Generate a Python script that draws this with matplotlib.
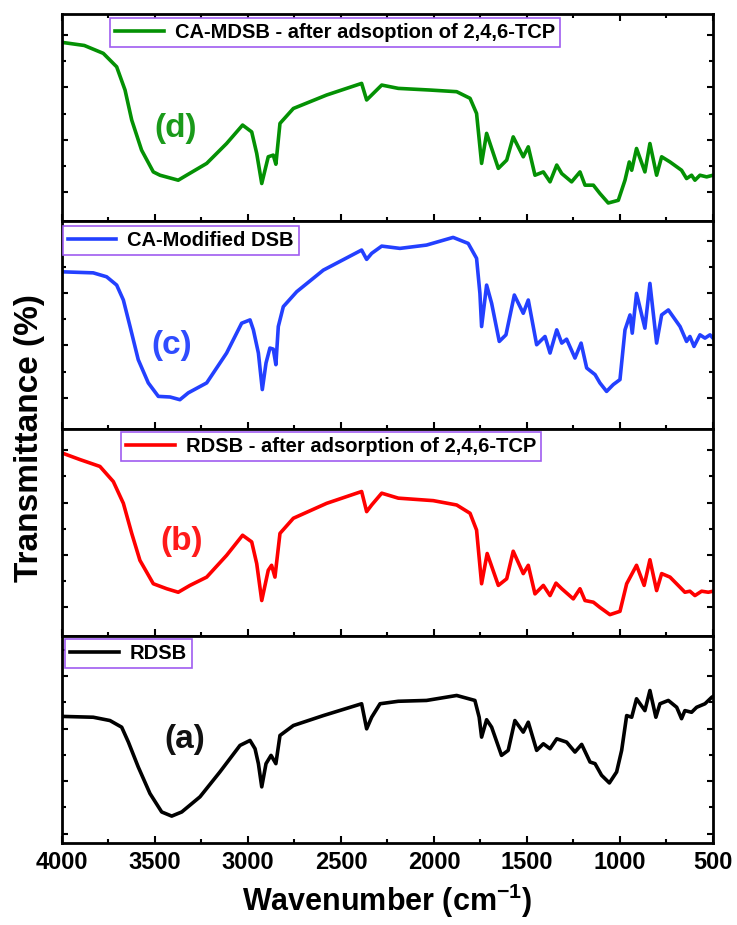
import matplotlib

matplotlib.use("Agg")
import matplotlib.pyplot as plt
import numpy as np
from matplotlib.ticker import MultipleLocator

# FTIR spectra, wavenumber (cm-1) vs. transmittance (arbitrary %, per panel)
wn_d = [4000, 3880, 3778, 3706, 3661, 3625, 3572, 3509, 3473, 3375, 3330, 3222, 3115, 3029,
        2980, 2953, 2926, 2891, 2864, 2850, 2828, 2756, 2577, 2389, 2362, 2326, 2281, 2192,
        2022, 1878, 1806, 1771, 1744, 1717, 1654, 1609, 1574, 1520, 1493, 1457, 1412, 1376,
        1340, 1313, 1260, 1215, 1188, 1143, 1108, 1063, 1009, 973, 950, 937, 911, 866, 839,
        803, 776, 731, 669, 642, 615, 597, 570, 534, 500]
t_d = [86.3, 84.8, 81.0, 74.5, 63.3, 48.8, 34.3, 23.8, 22.2, 19.8, 22.2, 27.9, 37.5, 46.4,
       43.1, 32.7, 18.2, 31.1, 31.9, 27.5, 47.2, 54.4, 60.9, 66.5, 58.5, 61.7, 65.7, 64.1,
       63.3, 62.5, 59.3, 52.0, 27.9, 42.4, 25.5, 29.5, 40.7, 31.1, 35.9, 22.2, 23.8, 19.0,
       27.1, 23.0, 19.0, 23.8, 17.4, 17.4, 13.4, 8.8, 10.1, 19.8, 28.6, 24.6, 35.1, 23.8,
       37.5, 22.2, 31.1, 28.6, 24.6, 20.6, 22.2, 19.8, 22.2, 21.4, 22.2]

wn_c = [4000, 3832, 3760, 3706, 3670, 3634, 3590, 3536, 3482, 3419, 3366, 3321, 3222, 3115,
        3034, 2989, 2971, 2944, 2923, 2903, 2882, 2864, 2850, 2837, 2810, 2738, 2595, 2389,
        2362, 2335, 2281, 2183, 2040, 1897, 1816, 1771, 1753, 1744, 1717, 1690, 1649, 1613,
        1568, 1520, 1493, 1448, 1403, 1376, 1340, 1313, 1287, 1242, 1209, 1179, 1134, 1108,
        1072, 1036, 1000, 973, 946, 934, 911, 866, 839, 803, 776, 740, 677, 642, 624, 602,
        570, 543, 516, 500]
t_c = [75.6, 75.1, 73.2, 69.2, 62.0, 49.2, 33.2, 22.0, 15.5, 15.2, 13.9, 17.2, 22.0, 36.4,
       50.8, 52.4, 47.6, 36.4, 18.8, 31.6, 38.8, 38.3, 30.8, 49.2, 58.8, 66.0, 76.4, 86.1,
       81.6, 84.5, 88.0, 86.9, 88.5, 92.2, 89.3, 82.1, 65.2, 49.2, 69.2, 60.4, 42.0, 45.2,
       64.4, 55.6, 62.0, 40.4, 44.4, 36.4, 47.6, 41.2, 43.1, 34.0, 41.2, 29.2, 26.0, 22.0,
       17.9, 21.2, 23.6, 47.6, 54.8, 46.0, 65.2, 48.4, 70.0, 41.2, 54.8, 57.2, 49.2, 42.0,
       44.4, 39.6, 45.2, 43.6, 45.2, 43.6]

wn_b = [4000, 3903, 3796, 3724, 3670, 3625, 3581, 3509, 3437, 3375, 3312, 3222, 3115, 3029,
        2980, 2953, 2926, 2891, 2873, 2855, 2828, 2756, 2577, 2389, 2362, 2335, 2281, 2192,
        2004, 1878, 1806, 1771, 1744, 1714, 1654, 1609, 1574, 1520, 1493, 1457, 1412, 1376,
        1344, 1313, 1251, 1215, 1188, 1143, 1108, 1054, 1000, 964, 911, 870, 839, 803, 776,
        731, 677, 651, 624, 597, 561, 525, 500]
t_b = [88.2, 85.0, 81.7, 74.4, 63.9, 49.4, 36.4, 25.1, 22.7, 21.0, 24.3, 28.3, 38.8, 48.5,
       45.3, 34.8, 17.0, 31.6, 34.0, 28.3, 49.4, 56.7, 63.9, 69.6, 59.9, 63.1, 68.8, 66.4,
       65.2, 63.1, 59.1, 51.0, 25.1, 39.7, 24.3, 27.5, 40.8, 30.0, 34.0, 20.2, 24.3, 19.4,
       25.4, 22.7, 17.8, 22.7, 17.0, 16.2, 13.7, 10.2, 11.8, 25.1, 34.0, 24.3, 36.7, 21.8, 30.0,
       28.3, 23.4, 21.0, 21.5, 19.4, 21.5, 21.0, 21.5]

wn_a = [4000, 3832, 3742, 3679, 3643, 3590, 3527, 3464, 3410, 3356, 3258, 3151, 3043, 2989,
        2962, 2944, 2926, 2903, 2876, 2850, 2828, 2756, 2595, 2389, 2362, 2335, 2290, 2192,
        2040, 1878, 1780, 1757, 1744, 1717, 1690, 1637, 1601, 1565, 1520, 1493, 1448, 1412,
        1376, 1340, 1287, 1242, 1206, 1161, 1134, 1099, 1057, 1018, 991, 964, 937, 911, 866,
        839, 807, 785, 740, 695, 669, 651, 615, 588, 543, 507, 500]
t_a = [61.1, 60.7, 59.1, 55.9, 48.7, 36.7, 23.9, 15.0, 13.0, 15.0, 22.3, 34.3, 47.1, 49.5,
       45.5, 38.3, 27.1, 38.3, 42.3, 38.3, 51.9, 56.7, 61.5, 67.2, 55.1, 60.7, 67.2, 68.4,
       68.8, 71.2, 68.8, 60.7, 51.1, 59.5, 55.9, 42.3, 44.7, 59.1, 53.5, 58.3, 44.7, 47.9,
       45.5, 50.3, 48.7, 43.9, 47.6, 39.1, 38.3, 32.7, 29.0, 34.3, 44.7, 61.5, 60.7, 69.6,
       63.9, 73.6, 60.7, 67.2, 68.8, 65.5, 60.0, 63.9, 63.1, 65.5, 67.2, 70.3, 70.7]

legend_labels = [
    "CA-MDSB - after adsoption of 2,4,6-TCP",
    "CA-Modified DSB",
    "RDSB - after adsorption of 2,4,6-TCP",
    "RDSB",
]
panel_tags = ["(d)", "(c)", "(b)", "(a)"]
tag_pos = [(3387, 44.9), (3411, 39.9), (3358, 45.4), (3341, 49.8)]
colors = ["#049104", "#2340ff", "#ff0000", "#000000"]
tag_colors = ["#1a9a1a", "#2f4cff", "#ff1a1a", "#111111"]

legend_anchor = [(0.074, 0.982), (0.0015, 0.976), (0.091, 0.982), (0.005, 0.986)]
ytick_start = [14.0, 14.8, 13.7, 4.6]

plt.rcParams["font.family"] = ["Liberation Sans", "DejaVu Sans"]
plt.rcParams["font.weight"] = "bold"
plt.rcParams["mathtext.fontset"] = "custom"
plt.rcParams["mathtext.rm"] = "Liberation Sans:bold"
plt.rcParams["mathtext.default"] = "rm"

fig = plt.figure(figsize=(7.37, 9.25), dpi=100)
gs = fig.add_gridspec(4, 1, left=0.0841, right=0.9674, top=0.9849, bottom=0.0886, hspace=0)
axes = []
for i in range(4):
    ax = fig.add_subplot(gs[i], sharex=axes[0] if axes else None)
    axes.append(ax)

series = [(wn_d, t_d), (wn_c, t_c), (wn_b, t_b), (wn_a, t_a)]
for i, ax in enumerate(axes):
    wn, t = series[i]
    ax.plot(wn, t, color=colors[i], linewidth=2.6, solid_joinstyle="round",
            label=legend_labels[i])
    ax.set_ylim(0, 100)
    ax.set_xlim(4000, 500)
    ax.text(tag_pos[i][0], tag_pos[i][1], panel_tags[i], color=tag_colors[i],
            fontsize=24, fontweight="bold", ha="center", va="center")

    leg = ax.legend(loc="upper left", bbox_to_anchor=legend_anchor[i], borderaxespad=0,
                    fancybox=False, framealpha=1, edgecolor="#a05cf0",
                    prop={"size": 14.5, "weight": "bold"}, handlelength=2.4,
                    handletextpad=0.55, borderpad=0.25)
    leg.get_frame().set_linewidth(1.2)

    for side in ax.spines.values():
        side.set_linewidth(2.0)

    s = ytick_start[i]
    ax.set_yticks(np.arange(s, 100, 25.3))
    ax.set_yticks(np.arange(s + 12.65, 100, 25.3), minor=True)
    ax.tick_params(axis="y", which="both", direction="in", left=True, right=True,
                   labelleft=False, width=1.5)
    ax.tick_params(axis="y", which="major", length=4)
    ax.tick_params(axis="y", which="minor", length=3)

    ax.xaxis.set_major_locator(MultipleLocator(500))
    ax.xaxis.set_minor_locator(MultipleLocator(250))
    ax.tick_params(axis="x", which="both", direction="in", top=(i == 0), bottom=True,
                   width=1.5, labelbottom=(i == 3))
    ax.tick_params(axis="x", which="major", length=5)
    ax.tick_params(axis="x", which="minor", length=3)

axes[-1].tick_params(axis="x", labelsize=17, pad=6)
for lbl in axes[-1].get_xticklabels():
    lbl.set_fontweight("bold")

fig.text(0.040, 0.526, "Transmittance (%)", rotation=90, fontsize=24, fontweight="bold",
         ha="center", va="center")
fig.text(0.526, 0.026, "Wavenumber (cm$^{-1}$)", fontsize=22, fontweight="bold",
         ha="center", va="center")

fig.savefig("out.png", dpi=100)
